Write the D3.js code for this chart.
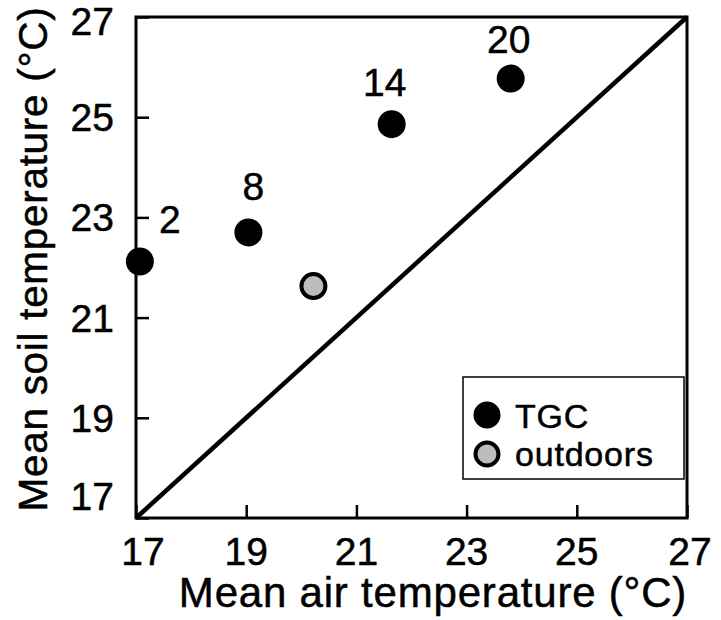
<!DOCTYPE html>
<html><head><meta charset="utf-8">
<script src="https://cdn.jsdelivr.net/npm/d3@7"></script>
<style>body{margin:0;background:#fff}svg{display:block}text{font-family:"Liberation Sans",Arial,Helvetica,sans-serif;fill:#000;stroke:#000;stroke-width:0.5}</style>
</head><body>
<script>
// Data
const tgcLabels = ["2", "8", "14", "20"];
const tgcAir = [17.07, 19.04, 21.64, 23.80];
const tgcSoil = [22.12, 22.70, 24.86, 25.77];
const outdoorAir = [20.22];
const outdoorSoil = [21.63];
const tickValues = [17, 19, 21, 23, 25, 27];
const legendLabels = ["TGC", "outdoors"];
const xTitle = "Mean air temperature (°C)";
const yTitle = "Mean soil temperature (°C)";

// layout
const W = 721, H = 620;
const m = {left: 136, right: 687, top: 17, bottom: 518};
const labelOffsets = [[30, -28], [5, -32], [-7, -28], [-2, -26]];

const svg = d3.select("body").append("svg").attr("width", W).attr("height", H);
const x = d3.scaleLinear().domain([17, 27]).range([m.left, m.right]);
const y = d3.scaleLinear().domain([17, 27]).range([m.bottom, m.top]);

// ticks (inward)
const xAxis = d3.axisTop(x).tickValues(tickValues).tickSize(13).tickFormat("");
const gx = svg.append("g").attr("transform", `translate(0,${m.bottom})`).call(xAxis);
const yAxis = d3.axisRight(y).tickValues(tickValues).tickSize(13).tickFormat("");
const gy = svg.append("g").attr("transform", `translate(${m.left},0)`).call(yAxis);
[gx, gy].forEach(g => {
  g.select(".domain").remove();
  g.selectAll(".tick line").attr("stroke", "#000").attr("stroke-width", 2.5);
});

// frame
svg.append("rect").attr("x", m.left).attr("y", m.top)
  .attr("width", m.right - m.left).attr("height", m.bottom - m.top)
  .attr("fill", "none").attr("stroke", "#000").attr("stroke-width", 3);

// 1:1 line
svg.append("line").attr("x1", x(17)).attr("y1", y(17)).attr("x2", x(27)).attr("y2", y(27))
  .attr("stroke", "#000").attr("stroke-width", 4.5);

// tick labels
svg.append("g").selectAll("text").data(tickValues).join("text")
  .attr("x", d => x(d) + (d === 17 ? 7 : (d === 27 ? 3 : 0)))
  .attr("y", 565).attr("text-anchor", "middle").attr("font-size", 39)
  .text(d => d);
svg.append("g").selectAll("text").data(tickValues).join("text")
  .attr("x", 114)
  .attr("y", d => y(d) + 14 - (d === 17 ? 22 : 0) + (d === 27 ? 4 : 0))
  .attr("text-anchor", "end").attr("font-size", 39)
  .text(d => d);

// axis titles
svg.append("text").attr("x", 433).attr("y", 607).attr("text-anchor", "middle")
  .attr("font-size", 42).attr("letter-spacing", 0.8).text(xTitle);
svg.append("text").attr("transform", `translate(47,259) rotate(-90)`).attr("text-anchor", "middle")
  .attr("font-size", 40.5).attr("letter-spacing", 0.7).text(yTitle);

// points
const tgc = tgcAir.map((a, i) => ({x: a, y: tgcSoil[i], label: tgcLabels[i], off: labelOffsets[i]}));
svg.append("g").selectAll("circle").data(tgc).join("circle")
  .attr("cx", d => x(d.x)).attr("cy", d => y(d.y)).attr("r", 14).attr("fill", "#000");
svg.append("g").selectAll("text").data(tgc).join("text")
  .attr("x", d => x(d.x) + d.off[0]).attr("y", d => y(d.y) + d.off[1])
  .attr("text-anchor", "middle").attr("font-size", 39).text(d => d.label);

const outd = outdoorAir.map((a, i) => ({x: a, y: outdoorSoil[i]}));
svg.append("g").selectAll("circle").data(outd).join("circle")
  .attr("cx", d => x(d.x)).attr("cy", d => y(d.y)).attr("r", 12)
  .attr("fill", "#bdbdbd").attr("stroke", "#000").attr("stroke-width", 4);

// legend
const lg = svg.append("g");
lg.append("rect").attr("x", 463).attr("y", 377).attr("width", 221).attr("height", 102)
  .attr("fill", "#fff").attr("stroke", "#000").attr("stroke-width", 1.5);
lg.append("circle").attr("cx", 487).attr("cy", 415).attr("r", 13.5).attr("fill", "#000");
lg.append("circle").attr("cx", 487).attr("cy", 454).attr("r", 11.5)
  .attr("fill", "#bdbdbd").attr("stroke", "#000").attr("stroke-width", 4);
lg.selectAll("text.l").data(legendLabels).join("text").attr("class", "l")
  .attr("x", 515).attr("y", (d, i) => 428 + i * 38)
  .attr("font-size", 34).attr("letter-spacing", 0.8).text(d => d);
</script>
</body></html>
